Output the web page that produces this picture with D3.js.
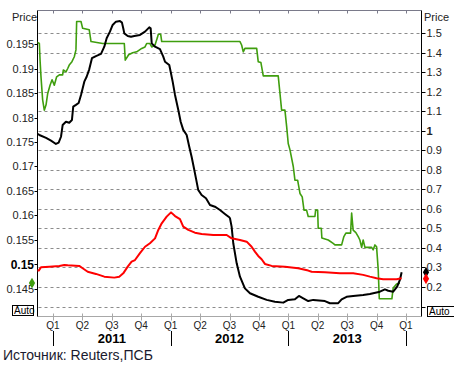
<!DOCTYPE html>
<html lang="ru">
<head>
<meta charset="UTF-8">
<title>Price chart</title>
<script src="https://d3js.org/d3.v7.min.js"></script>
<style>
    body { margin: 0; background: #fff; }
    svg { display: block; font-family: "Liberation Sans", Arial, sans-serif; }
    .tick-label { font-size: 11px; fill: #222; }
    .grid { stroke: #8c8c8c; stroke-width: 1; stroke-dasharray: 3,3; }
    .line { fill: none; stroke-linejoin: round; }
</style>
</head>
<body>
<div id="chart"></div>
<script>
// time in decimal years
const quarterLabels = ["Q1", "Q2", "Q3", "Q4"];
const years = [2011, 2012, 2013];
const leftTicks = [0.145, 0.15, 0.155, 0.16, 0.165, 0.17, 0.175, 0.18, 0.185, 0.19, 0.195];
const rightTicks = [0.1, 0.2, 0.3, 0.4, 0.5, 0.6, 0.7, 0.8, 0.9, 1, 1.1, 1.2, 1.3, 1.4, 1.5];

// green - left axis
const greenSeries = [
    [2010.856, 0.1955], [2010.884, 0.1951], [2010.890, 0.1917], [2010.898, 0.1883], [2010.912, 0.1836],
    [2010.926, 0.1815], [2010.941, 0.1826], [2010.955, 0.1849], [2010.975, 0.1866], [2010.992, 0.1877],
    [2011.011, 0.1866], [2011.031, 0.1883], [2011.054, 0.1887], [2011.082, 0.1887], [2011.088, 0.1897],
    [2011.110, 0.1893], [2011.125, 0.1900], [2011.138, 0.1907], [2011.161, 0.1914], [2011.181, 0.1924],
    [2011.195, 0.1938], [2011.201, 0.1996], [2011.238, 0.1996], [2011.252, 0.1982], [2011.308, 0.1979],
    [2011.323, 0.1955], [2011.422, 0.1951], [2011.606, 0.1951], [2011.614, 0.1917], [2011.643, 0.1928],
    [2011.677, 0.1932], [2011.711, 0.1934], [2011.754, 0.1941], [2011.782, 0.1944], [2011.796, 0.1951],
    [2011.824, 0.1951], [2011.839, 0.1944], [2011.867, 0.1948], [2011.886, 0.1962], [2011.895, 0.1970],
    [2011.915, 0.1970], [2011.924, 0.1955], [2012.589, 0.1955], [2012.603, 0.1948], [2012.617, 0.1934],
    [2012.631, 0.1941], [2012.731, 0.1941], [2012.744, 0.1914], [2012.767, 0.1912], [2012.778, 0.1897],
    [2012.787, 0.1885], [2012.914, 0.1885], [2012.929, 0.1849], [2012.943, 0.1815], [2012.971, 0.1815],
    [2012.986, 0.1781], [2012.999, 0.1747], [2013.014, 0.1734], [2013.042, 0.1700], [2013.056, 0.1672],
    [2013.079, 0.1672], [2013.099, 0.1645], [2013.118, 0.1638], [2013.133, 0.1611], [2013.155, 0.1611],
    [2013.169, 0.1598], [2013.226, 0.1598], [2013.232, 0.1611], [2013.249, 0.1611], [2013.254, 0.1574],
    [2013.280, 0.1574], [2013.285, 0.1554], [2013.339, 0.1550], [2013.381, 0.1543], [2013.396, 0.1540],
    [2013.453, 0.1540], [2013.472, 0.1557], [2013.489, 0.1564], [2013.529, 0.1564], [2013.538, 0.1605],
    [2013.551, 0.1570], [2013.574, 0.1565], [2013.594, 0.1557], [2013.608, 0.1550], [2013.623, 0.1535],
    [2013.636, 0.1550], [2013.651, 0.1535], [2013.708, 0.1535], [2013.721, 0.1530], [2013.736, 0.1540],
    [2013.750, 0.1536], [2013.764, 0.1489], [2013.773, 0.1430], [2013.880, 0.1430], [2013.891, 0.1452],
    [2013.920, 0.1460], [2013.948, 0.1462]
];

// black - right axis
const blackSeries = [
    [2010.856, 0.987], [2010.884, 0.978], [2010.941, 0.963], [2010.983, 0.949], [2011.025, 0.932],
    [2011.048, 0.939], [2011.068, 0.969], [2011.082, 1.029], [2011.110, 1.046], [2011.138, 1.041],
    [2011.161, 1.055], [2011.172, 1.123], [2011.195, 1.132], [2011.218, 1.142], [2011.238, 1.183],
    [2011.266, 1.251], [2011.286, 1.276], [2011.308, 1.314], [2011.331, 1.371], [2011.365, 1.382],
    [2011.408, 1.393], [2011.436, 1.430], [2011.456, 1.473], [2011.484, 1.507], [2011.507, 1.541],
    [2011.535, 1.558], [2011.569, 1.561], [2011.586, 1.553], [2011.597, 1.524], [2011.606, 1.498],
    [2011.635, 1.485], [2011.663, 1.481], [2011.691, 1.485], [2011.739, 1.490], [2011.782, 1.507],
    [2011.818, 1.529], [2011.830, 1.524], [2011.839, 1.447], [2011.867, 1.430], [2011.909, 1.417],
    [2011.937, 1.379], [2011.952, 1.353], [2011.988, 1.336], [2012.000, 1.302], [2012.017, 1.251],
    [2012.037, 1.183], [2012.065, 1.106], [2012.085, 1.046], [2012.107, 1.004], [2012.136, 0.978],
    [2012.158, 0.918], [2012.178, 0.867], [2012.198, 0.808], [2012.215, 0.756], [2012.234, 0.697],
    [2012.263, 0.671], [2012.300, 0.654], [2012.334, 0.620], [2012.376, 0.611], [2012.419, 0.594],
    [2012.461, 0.574], [2012.498, 0.557], [2012.504, 0.552], [2012.518, 0.509], [2012.532, 0.424],
    [2012.561, 0.321], [2012.589, 0.253], [2012.631, 0.193], [2012.674, 0.168], [2012.744, 0.150],
    [2012.816, 0.134], [2012.886, 0.125], [2012.957, 0.120], [2012.999, 0.134], [2013.056, 0.137],
    [2013.090, 0.154], [2013.127, 0.142], [2013.169, 0.128], [2013.212, 0.134], [2013.311, 0.128],
    [2013.353, 0.117], [2013.424, 0.117], [2013.453, 0.137], [2013.495, 0.150], [2013.551, 0.154],
    [2013.636, 0.159], [2013.693, 0.164], [2013.778, 0.176], [2013.821, 0.188], [2013.849, 0.181],
    [2013.891, 0.176], [2013.925, 0.202], [2013.948, 0.236], [2013.963, 0.275]
];

// red - right axis
const redSeries = [
    [2010.856, 0.284], [2010.879, 0.284], [2010.898, 0.301], [2010.969, 0.304], [2011.054, 0.308],
    [2011.096, 0.313], [2011.125, 0.311], [2011.223, 0.308], [2011.252, 0.296], [2011.295, 0.278],
    [2011.365, 0.267], [2011.436, 0.253], [2011.521, 0.248], [2011.563, 0.253], [2011.597, 0.270],
    [2011.635, 0.304], [2011.668, 0.330], [2011.697, 0.338], [2011.739, 0.373], [2011.782, 0.406],
    [2011.824, 0.424], [2011.867, 0.449], [2011.895, 0.492], [2011.924, 0.526], [2011.966, 0.560],
    [2012.003, 0.582], [2012.037, 0.563], [2012.079, 0.547], [2012.107, 0.509], [2012.150, 0.492],
    [2012.206, 0.478], [2012.263, 0.471], [2012.362, 0.466], [2012.476, 0.466], [2012.518, 0.449],
    [2012.589, 0.441], [2012.646, 0.432], [2012.688, 0.406], [2012.716, 0.381], [2012.744, 0.359],
    [2012.773, 0.342], [2012.801, 0.318], [2012.858, 0.308], [2012.971, 0.304], [2013.084, 0.296],
    [2013.169, 0.284], [2013.198, 0.278], [2013.311, 0.275], [2013.438, 0.270], [2013.551, 0.270],
    [2013.636, 0.262], [2013.693, 0.253], [2013.750, 0.245], [2013.806, 0.240], [2013.920, 0.240],
    [2013.963, 0.245]
];

const W = 454, H = 370;
const plot = {left: 37.5, right: 421.5, top: 10.5, bottom: 316.5};

const svg = d3.select("#chart").append("svg")
    .attr("width", W)
    .attr("height", H);

const x = d3.scaleLinear().domain([2011, 2014]).range([53, 406]);
const yLeft = d3.scaleLinear().domain([0.145, 0.195]).range([289, 44]);
const yRight = d3.scaleLinear().domain([0.2, 1.5]).range([287, 33]);

// dashed grid from right axis ticks
svg.append("g")
    .selectAll("line")
    .data(rightTicks)
    .enter().append("line")
    .attr("class", "grid")
    .attr("x1", plot.left + 1)
    .attr("x2", plot.right - 1)
    .attr("y1", d => Math.round(yRight(d)) + 0.5)
    .attr("y2", d => Math.round(yRight(d)) + 0.5);

// frame
svg.append("line").attr("x1", plot.left).attr("x2", plot.right)
    .attr("y1", plot.top).attr("y2", plot.top).attr("stroke", "#7a7a8a");
svg.append("line").attr("x1", plot.left).attr("x2", plot.right)
    .attr("y1", plot.bottom).attr("y2", plot.bottom).attr("stroke", "#a8a8a8");

// quarter ticks
const quarters = [];
years.concat([2014]).forEach(yr => {
    quarterLabels.forEach((q, i) => {
        const t = yr + i * 0.25;
        if (t <= 2014) quarters.push({t: t, label: q});
    });
});

const qx = d => Math.round(x(d.t)) + 0.5;
svg.append("g").selectAll("line.qt")
    .data(quarters).enter().append("line")
    .attr("x1", qx).attr("x2", qx)
    .attr("y1", plot.top).attr("y2", plot.top + 3)
    .attr("stroke", "#7a7a8a");
svg.append("g").selectAll("line.qb")
    .data(quarters).enter().append("line")
    .attr("x1", qx).attr("x2", qx)
    .attr("y1", plot.bottom - 3).attr("y2", plot.bottom + 4)
    .attr("stroke", "#a8a8a8");
svg.append("g").selectAll("text")
    .data(quarters).enter().append("text")
    .attr("class", "tick-label")
    .style("font-size", "10px")
    .attr("x", d => x(d.t))
    .attr("y", 329)
    .attr("text-anchor", "middle")
    .text(d => d.label);

// year separators and labels
svg.append("g").selectAll("line")
    .data(years.concat([2014])).enter().append("line")
    .attr("x1", d => Math.round(x(d)) + 0.5)
    .attr("x2", d => Math.round(x(d)) + 0.5)
    .attr("y1", 331).attr("y2", 346)
    .attr("stroke", "#000");
svg.append("g").selectAll("text")
    .data(years).enter().append("text")
    .attr("x", d => x(d + 0.5))
    .attr("y", 343)
    .attr("text-anchor", "middle")
    .style("font-size", "13px")
    .style("font-weight", "bold")
    .text(d => d);

// left axis
svg.append("line").attr("x1", plot.left).attr("x2", plot.left)
    .attr("y1", plot.top).attr("y2", plot.bottom).attr("stroke", "#000");
const lt = svg.append("g").selectAll("g")
    .data(leftTicks).enter().append("g")
    .attr("transform", d => `translate(0,${Math.round(yLeft(d)) + 0.5})`);
lt.append("line").attr("x1", plot.left - 3).attr("x2", plot.left).attr("stroke", "#000");
lt.append("text")
    .attr("class", "tick-label")
    .attr("x", 34)
    .attr("dy", "0.35em")
    .attr("text-anchor", "end")
    .style("font-weight", d => d === 0.15 ? "bold" : null)
    .style("font-size", d => d === 0.15 ? "12px" : null)
    .style("fill", d => d === 0.15 ? "#000" : null)
    .text(d => String(+d.toFixed(3)));

// right axis (0.1 label sits under the Auto box, so it is not drawn)
svg.append("line").attr("x1", plot.right).attr("x2", plot.right)
    .attr("y1", plot.top).attr("y2", plot.bottom).attr("stroke", "#000");
const rt = svg.append("g").selectAll("g")
    .data(rightTicks).enter().append("g")
    .attr("transform", d => `translate(0,${Math.round(yRight(d)) + 0.5})`);
rt.append("line").attr("x1", plot.right).attr("x2", plot.right + 4).attr("stroke", "#000");
rt.filter(d => d > 0.15).append("text")
    .attr("class", "tick-label")
    .attr("x", plot.right + 5)
    .attr("dy", "0.35em")
    .style("font-weight", d => d === 1 ? "bold" : null)
    .text(d => String(+d.toFixed(1)));

// Price titles
svg.append("text").attr("class", "tick-label").attr("x", 12).attr("y", 21).text("Price");
svg.append("text").attr("class", "tick-label").attr("x", 424).attr("y", 21).text("Price");

// lines
svg.append("clipPath").attr("id", "plotclip")
    .append("rect")
    .attr("x", plot.left).attr("y", plot.top)
    .attr("width", plot.right - plot.left).attr("height", plot.bottom - plot.top);

const lineLeft = d3.line().x(d => x(d[0])).y(d => yLeft(d[1]));
const lineRight = d3.line().x(d => x(d[0])).y(d => yRight(d[1]));

const lines = svg.append("g").attr("clip-path", "url(#plotclip)");
lines.append("path").attr("class", "line")
    .attr("d", lineLeft(greenSeries))
    .attr("stroke", "#3f9e0e").attr("stroke-width", 1.6);
lines.append("path").attr("class", "line")
    .attr("d", lineRight(blackSeries))
    .attr("stroke", "#000").attr("stroke-width", 2);
lines.append("path").attr("class", "line")
    .attr("d", lineRight(redSeries))
    .attr("stroke", "#ff0000").attr("stroke-width", 2);

// last-value markers
const diamond = d3.symbol().type(d3.symbolDiamond).size(34);
const lastBlack = blackSeries[blackSeries.length - 1];
const lastRed = redSeries[redSeries.length - 1];
const lastGreen = greenSeries[greenSeries.length - 1];
svg.append("path").attr("d", diamond)
    .attr("transform", `translate(426,${yRight(lastBlack[1])})`).attr("fill", "#000");
svg.append("path").attr("d", diamond)
    .attr("transform", `translate(426,${yRight(lastRed[1]) + 0.5})`).attr("fill", "#ff0000");
svg.append("path").attr("d", diamond)
    .attr("transform", `translate(32,${yLeft(lastGreen[1])})`).attr("fill", "#3f9e0e");

// Auto boxes
function autoBox(bx, by, w) {
    const g = svg.append("g").attr("transform", `translate(${bx},${by})`);
    g.append("rect").attr("width", w).attr("height", 10)
        .attr("fill", "#fff").attr("stroke", "#000");
    g.append("text").attr("x", 1.5).attr("y", 8.5)
        .style("font-size", "10px").style("fill", "#000").text("Auto");
}
autoBox(12.5, 305.5, 21);
autoBox(427.5, 306.5, 30);

// source
svg.append("text")
    .attr("x", 3).attr("y", 360)
    .style("font-size", "14px")
    .style("fill", "#1a1a2e")
    .text("Источник: Reuters,ПСБ");
</script>
</body>
</html>
